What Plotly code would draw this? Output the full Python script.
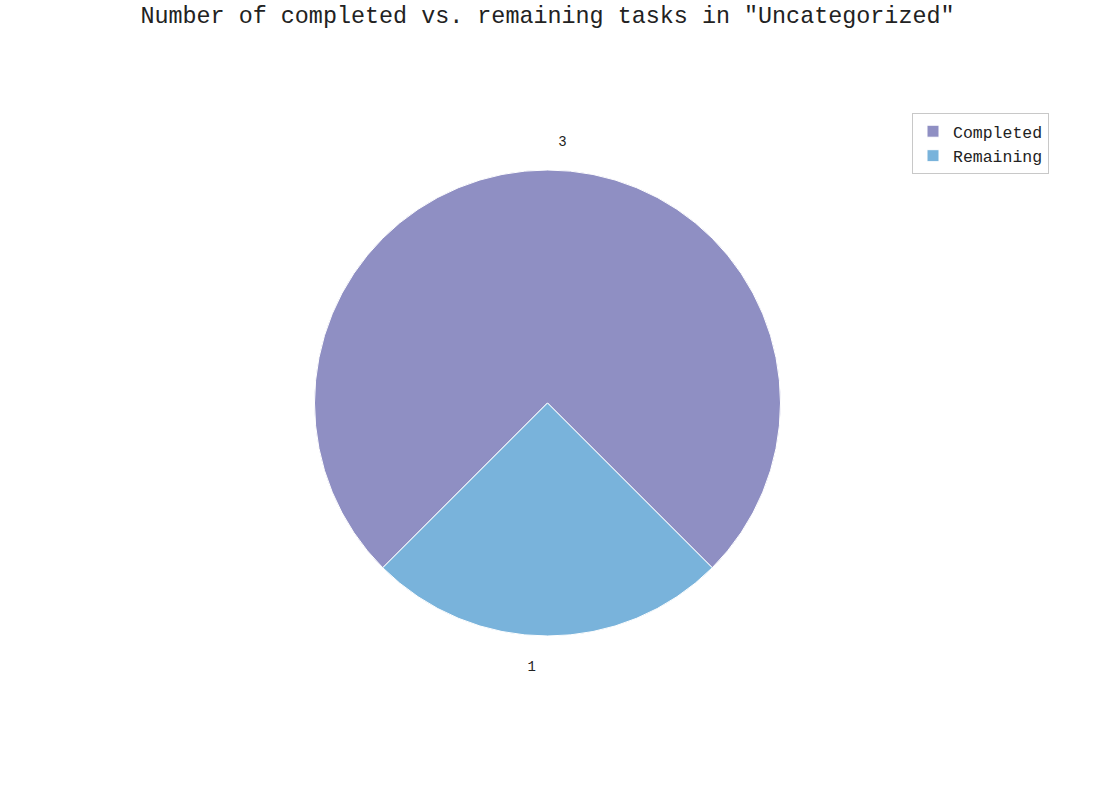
import plotly.graph_objects as go

labels = ["Completed", "Remaining"]
values = [3, 1]
colors = ["#8f8fc3", "#79b3db"]
title_text = 'Number of completed vs. remaining tasks in "Uncategorized"'

W, H = 1095, 805
T, B = 170, 169
font_family = "Liberation Mono, Courier New, monospace"
pad = "<span style='font-size:20px'> </span>"

fig = go.Figure(
    go.Pie(
        labels=labels,
        values=values,
        sort=False,
        direction="counterclockwise",
        rotation=-135,
        marker=dict(colors=colors, line=dict(color="white", width=1)),
        textinfo="value",
        texttemplate=["%{value}<br>" + pad, pad + "<br>%{value}"],
        textposition="outside",
        outsidetextfont=dict(family=font_family, size=14, color="#222"),
        hoverinfo="label+value",
    )
)

fig.update_layout(
    width=W,
    height=H,
    paper_bgcolor="white",
    plot_bgcolor="white",
    margin=dict(l=0, r=0, t=T, b=B, autoexpand=False),
    font=dict(family=font_family, color="#222"),
    title=dict(
        text=title_text,
        x=0.5,
        xanchor="center",
        xref="paper",
        y=1 - 15 / H,
        yanchor="middle",
        yref="container",
        font=dict(family=font_family, size=23.4, color="#222"),
    ),
    legend=dict(
        xref="container",
        yref="container",
        x=1049 / W,
        xanchor="right",
        y=1 - 113 / H,
        yanchor="top",
        bordercolor="#c8c8c8",
        borderwidth=1,
        bgcolor="white",
        font=dict(family=font_family, size=16.5, color="#222"),
        tracegroupgap=4,
    ),
)

fig.write_html("out.html")
